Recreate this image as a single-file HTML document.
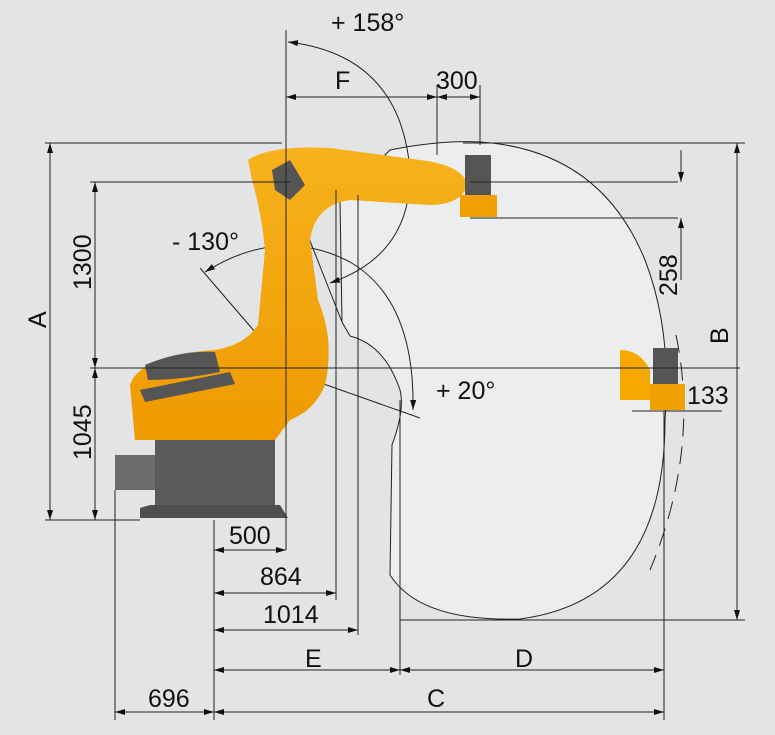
<!DOCTYPE html>
<html><head><meta charset="utf-8"><style>
html,body{margin:0;padding:0;background:#e3e4e6;}
svg{display:block;}
text{font-family:"Liberation Sans",sans-serif;fill:#111;}
</style></head><body>
<svg width="775" height="735" viewBox="0 0 775 735" xmlns="http://www.w3.org/2000/svg">
<defs>
<marker id="a" viewBox="0 0 10 6" refX="10" refY="3" markerWidth="10" markerHeight="6" orient="auto-start-reverse" markerUnits="userSpaceOnUse"><path d="M0,0 L10,3 L0,6z" fill="#111"/></marker>
<linearGradient id="og" x1="0" y1="0" x2="0" y2="1"><stop offset="0" stop-color="#f7b21c"/><stop offset="1" stop-color="#ee9a00"/></linearGradient>
</defs>
<rect width="775" height="735" fill="#e3e4e6"/>
<path d="M390,150 Q440,140 480,142 Q600,150 645,260 Q672,330 665,420 Q665,600 520,619 Q420,622 390,575 L392,445 Q405,410 400,390 Q385,345 350,336 L342,322 L340,200 Z" fill="#ecedee" stroke="#222" stroke-width="1"/>
<path d="M676,335 Q700,450 650,570" fill="none" stroke="#222" stroke-width="1" stroke-dasharray="18,10"/>
<path d="M288,42 Q400,55 410,170 Q412,255 330,283" fill="none" stroke="#222" stroke-width="1" marker-start="url(#a)" marker-end="url(#a)"/>
<path d="M205,272 Q280,225 350,262 Q415,300 413,410" fill="none" stroke="#222" stroke-width="1" marker-start="url(#a)" marker-end="url(#a)"/>
<line x1="200" y1="268" x2="286" y2="368" stroke="#222"/>
<line x1="270" y1="365" x2="420" y2="418" stroke="#222"/>
<line x1="286" y1="180" x2="342" y2="322" stroke="#222"/>
<rect x="155" y="440" width="120" height="72" fill="#5a5b5d"/>
<path d="M140,508 L150,505 L280,505 L288,518 L140,518Z" fill="#4d4e50"/>
<rect x="115" y="455" width="40" height="35" fill="#6a6b6d"/>
<path d="M130,385 Q140,355 215,350 Q245,345 258,325 L265,250 Q262,215 252,180 L248,160 Q270,145 330,148 L420,160 Q462,165 468,185 Q460,205 430,205 L350,200 Q315,205 310,240 L318,300 Q335,340 325,385 Q315,410 290,420 L275,440 L135,440 Z" fill="url(#og)"/>
<path d="M145,365 Q180,350 215,352 L220,372 Q180,380 148,380Z" fill="#555"/>
<path d="M140,390 L230,372 L235,384 L145,402Z" fill="#555"/>
<path d="M272,170 L290,160 L305,185 L290,200 L275,190Z" fill="#555"/>
<rect x="465" y="155" width="26" height="40" fill="#555"/>
<rect x="460" y="195" width="37" height="22" fill="#f0a000"/>
<path d="M620,350 Q640,350 650,370 L650,400 L620,400Z" fill="#f5a800"/>
<rect x="653" y="348" width="25" height="36" fill="#555"/>
<rect x="650" y="384" width="35" height="26" fill="#f0a000"/>
<line x1="286" y1="30" x2="286" y2="550" stroke="#222"/>
<line x1="45" y1="143" x2="282" y2="143" stroke="#222"/>
<line x1="90" y1="182" x2="290" y2="182" stroke="#222"/>
<line x1="90" y1="368" x2="740" y2="368" stroke="#222"/>
<line x1="45" y1="520" x2="140" y2="520" stroke="#222"/>
<line x1="463" y1="143" x2="745" y2="143" stroke="#222"/>
<line x1="400" y1="620" x2="745" y2="620" stroke="#222"/>
<line x1="470" y1="182" x2="678" y2="182" stroke="#222"/>
<line x1="470" y1="218" x2="678" y2="218" stroke="#222"/>
<line x1="437" y1="85" x2="437" y2="155" stroke="#222"/>
<line x1="480" y1="85" x2="480" y2="145" stroke="#222"/>
<line x1="336" y1="190" x2="336" y2="600" stroke="#222"/>
<line x1="358" y1="195" x2="358" y2="635" stroke="#222"/>
<line x1="400" y1="400" x2="400" y2="675" stroke="#222"/>
<line x1="214" y1="520" x2="214" y2="720" stroke="#222"/>
<line x1="115" y1="490" x2="115" y2="720" stroke="#222"/>
<line x1="664" y1="411" x2="664" y2="720" stroke="#222"/>
<g stroke="#222" fill="none">
<line x1="50" y1="143" x2="50" y2="520" marker-start="url(#a)" marker-end="url(#a)"/>
<line x1="95" y1="182" x2="95" y2="368" marker-start="url(#a)" marker-end="url(#a)"/>
<line x1="95" y1="368" x2="95" y2="520" marker-start="url(#a)" marker-end="url(#a)"/>
<line x1="737" y1="143" x2="737" y2="620" marker-start="url(#a)" marker-end="url(#a)"/>
<line x1="681" y1="150" x2="681" y2="182" marker-end="url(#a)"/>
<line x1="681" y1="280" x2="681" y2="218" marker-end="url(#a)"/>
<line x1="632" y1="411" x2="722" y2="411"/>
<line x1="286" y1="97" x2="437" y2="97" marker-start="url(#a)" marker-end="url(#a)"/>
<line x1="437" y1="97" x2="480" y2="97" marker-start="url(#a)" marker-end="url(#a)"/>
<line x1="214" y1="550" x2="286" y2="550" marker-start="url(#a)" marker-end="url(#a)"/>
<line x1="214" y1="593" x2="336" y2="593" marker-start="url(#a)" marker-end="url(#a)"/>
<line x1="214" y1="630" x2="358" y2="630" marker-start="url(#a)" marker-end="url(#a)"/>
<line x1="214" y1="670" x2="400" y2="670" marker-start="url(#a)" marker-end="url(#a)"/>
<line x1="400" y1="670" x2="664" y2="670" marker-start="url(#a)" marker-end="url(#a)"/>
<line x1="214" y1="712" x2="664" y2="712" marker-start="url(#a)" marker-end="url(#a)"/>
<line x1="115" y1="712" x2="214" y2="712" marker-start="url(#a)" marker-end="url(#a)"/>
</g>
<g font-size="25">
<text x="331" y="31">+ 158°</text>
<text x="335" y="89">F</text>
<text x="436" y="89">300</text>
<text x="172" y="250">- 130°</text>
<text x="436" y="399">+ 20°</text>
<text x="687" y="404">133</text>
<text x="229" y="544">500</text>
<text x="260" y="585">864</text>
<text x="263" y="623">1014</text>
<text x="305" y="667">E</text>
<text x="515" y="667">D</text>
<text x="427" y="707">C</text>
<text x="148" y="707">696</text>
<text transform="translate(91,290) rotate(-90)">1300</text>
<text transform="translate(46,328) rotate(-90)">A</text>
<text transform="translate(91,460) rotate(-90)">1045</text>
<text transform="translate(677,296) rotate(-90)">258</text>
<text transform="translate(728,344) rotate(-90)">B</text>
</g>
</svg>
</body></html>
